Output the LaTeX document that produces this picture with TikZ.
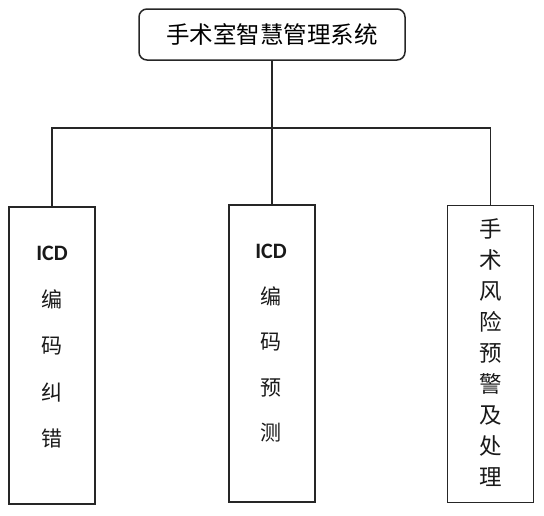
\documentclass[tikz,border=0pt]{standalone}
\usepackage{fontspec}
\newfontfamily\cjk{Noto Sans CJK SC}
\newfontfamily\latinb{Carlito}
\begin{document}
\begin{tikzpicture}[x=1pt,y=-1pt,
  box/.style={draw=black!85, line width=1.5pt, rectangle, inner sep=0pt},
  topbox/.style={box, rounded corners=8pt, minimum width=266pt, minimum height=51pt, font=\cjk\fontsize{23.5}{26}\selectfont},
  colbox/.style={box, minimum width=86pt, minimum height=297pt},
  coltext/.style={align=center, inner sep=0pt, text=black!90},
  wire/.style={draw=black!85, line width=1.5pt}
]
\useasboundingbox (0,0) rectangle (544,515);
\node[topbox] (top) at (272,34.5) {手术室智慧管理系统};
\node[colbox] (b1) at (52,355.5) {};
\node[colbox] (b2) at (272,353.5) {};
\node[colbox, line width=1.2pt] (b3) at (490.5,354) {};
\node[coltext, font=\cjk\fontsize{21}{46.5}\selectfont] (t1) at (52,347.5)
  {{\latinb\bfseries\fontsize{22}{46.5}\selectfont ICD}\\编\\码\\纠\\错};
\node[coltext, font=\cjk\fontsize{21}{45.5}\selectfont] (t2) at (271,343.5)
  {{\latinb\bfseries\fontsize{22}{45.5}\selectfont ICD}\\编\\码\\预\\测};
\node[coltext, font=\cjk\fontsize{22.5}{31.1}\selectfont] (t3) at (490.5,352.5)
  {手\\术\\风\\险\\预\\警\\及\\处\\理};
\coordinate (bus) at (272,128);
\draw[wire] (top.south) -- (bus);
\draw[wire] (b1.north) |- (bus);
\draw[wire] (b3.north) |- (bus);
\draw[wire] (b2.north) -- (b2.north |- bus);
\end{tikzpicture}
\end{document}
